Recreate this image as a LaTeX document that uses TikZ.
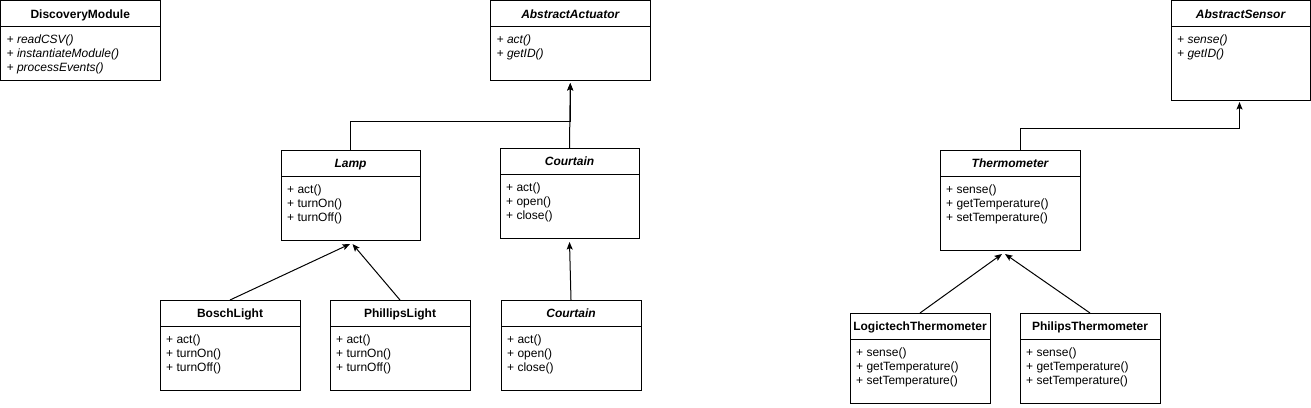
\documentclass[tikz,border=0pt]{standalone}
\usepackage{fontspec}
\setmainfont{Liberation Sans}
\usetikzlibrary{arrows.meta,calc}
\tikzset{
  classbox/.style={draw, line width=1pt, anchor=north west, inner sep=0pt, outer sep=0pt},
  boxline/.style={line width=1pt},
  titletext/.style={anchor=base, inner sep=0pt, font=\fontsize{12}{14}\selectfont\bfseries},
  titleit/.style={font=\fontsize{12}{14}\selectfont\bfseries\itshape},
  membertext/.style={anchor=base west, inner sep=0pt, font=\fontsize{12}{14}\selectfont},
  memberit/.style={font=\fontsize{12}{14}\selectfont\itshape},
  inh/.style={draw, line width=1pt, -{Stealth[length=7.5pt,width=6pt,inset=1.5pt]}},
}
% name, left, top, width, height, title style, title, member style, members
\newcommand{\umlclass}[9]{%
  \node[classbox, minimum width=#4pt, minimum height=#5pt] (#1) at (#2pt,-#3pt) {};
  \draw[boxline] ($(#1.north west)+(0,-26pt)$) -- ($(#1.north east)+(0,-26pt)$);
  \node[titletext,#6] (#1-title) at ($(#1.north)+(0,-17.8pt)$) {#7};
  \foreach \m [count=\i] in {#9} {
    \node[membertext,#8] (#1-m\i) at ($(#1.north west)+(6pt,{-43pt-14pt*(\i-1)})$) {\m};
  }%
}
\begin{document}
\begin{tikzpicture}
\useasboundingbox (0pt,0pt) rectangle (1311pt,-407pt);

\umlclass{dm}{0.5}{0.5}{159.5}{79.5}{}{DiscoveryModule}{memberit}{+ readCSV(),+ instantiateModule(),+ processEvents()}
\umlclass{aa}{490.5}{0.5}{159.5}{79.5}{titleit}{AbstractActuator}{memberit}{+ act(),+ getID()}
\umlclass{as}{1171}{0.5}{139}{99.5}{titleit}{AbstractSensor}{memberit}{+ sense(),+ getID()}

\umlclass{lamp}{281}{150}{139}{90}{titleit}{Lamp}{}{+ act(),+ turnOn(),+ turnOff()}
\umlclass{ct}{500}{148}{139}{90}{titleit}{Courtain}{}{+ act(),+ open(),+ close()}

\umlclass{bosch}{160}{300}{140}{90}{}{BoschLight}{}{+ act(),+ turnOn(),+ turnOff()}
\umlclass{phl}{330}{300}{140}{90}{}{PhillipsLight}{}{+ act(),+ turnOn(),+ turnOff()}
\umlclass{cb}{501}{300}{140}{90}{titleit}{Courtain}{}{+ act(),+ open(),+ close()}

\umlclass{therm}{940}{150}{140}{100}{titleit}{Thermometer}{}{+ sense(),+ getTemperature(),+ setTemperature()}
\umlclass{logi}{850}{313}{140}{90}{}{LogictechThermometer}{}{+ sense(),+ getTemperature(),+ setTemperature()}
\umlclass{pht}{1020}{313}{140}{90}{}{PhilipsThermometer}{}{+ sense(),+ getTemperature(),+ setTemperature()}

% arrow target points
\coordinate (aaIn) at ($(aa.south)+(0,-3pt)$);
\coordinate (asIn) at ($(as.south)+(-1pt,-2pt)$);
\coordinate (lampInL) at ($(lamp.south)+(-0.5pt,-4pt)$);
\coordinate (lampInR) at ($(lamp.south)+(2pt,-4pt)$);
\coordinate (ctIn) at ($(ct.south)+(0,-4pt)$);
\coordinate (thermInL) at ($(therm.south)+(-8pt,-4pt)$);
\coordinate (thermInR) at ($(therm.south)+(-5pt,-4pt)$);
\coordinate (thermOut) at ($(therm.north)+(10pt,0)$);

% connectors
\draw[inh] (lamp.north) -- ++(0,29pt) -| (aaIn);
\draw[inh] (ct.north) -- (aaIn);
\draw[inh] (bosch.north) -- (lampInL);
\draw[inh] (phl.north) -- (lampInR);
\draw[inh] (cb.north) -- (ctIn);
\draw[inh] (thermOut) -- ++(0,22pt) -| (asIn);
\draw[inh] (logi.north) -- (thermInL);
\draw[inh] (pht.north) -- (thermInR);
\end{tikzpicture}
\end{document}
